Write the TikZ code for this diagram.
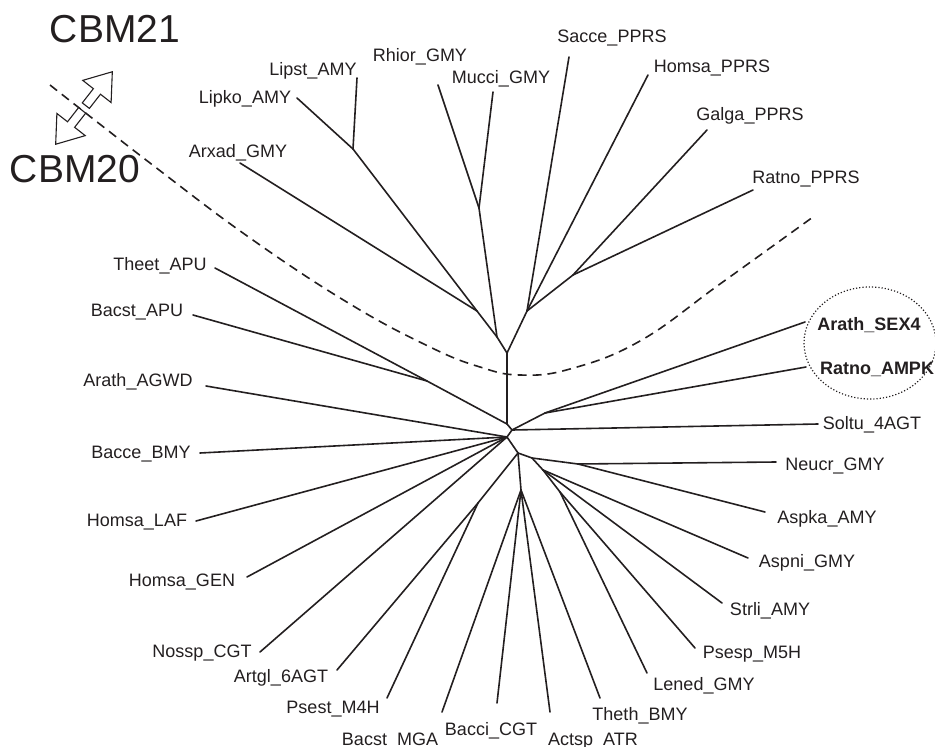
\documentclass[tikz,border=0pt]{standalone}
\usepackage{fontspec}
\setmainfont{Liberation Sans}
\usetikzlibrary{positioning}
\definecolor{ink}{HTML}{231F20}

\begin{document}
\begin{tikzpicture}[x=1pt, y=-1pt,
  branch/.style={draw=ink, line width=1.6pt, line cap=round, line join=round},
  leaf/.style={anchor=base, inner sep=0pt, text=ink, font=\fontsize{18}{21}\selectfont},
  leafb/.style={leaf, font=\fontsize{18}{21}\selectfont\bfseries},
  group/.style={anchor=base, inner sep=0pt, text=ink, font=\fontsize{39}{44}\selectfont},
  border/.style={draw=ink, line width=1.6pt, dash pattern=on 9pt off 6pt},
  flip/.style={draw=ink, fill=white, line width=1.1pt, line join=miter}
]
  \useasboundingbox (0,0) rectangle (935,747);

  % inner nodes
  \coordinate (c1) at (507,424);
  \coordinate (c2) at (512,430);
  \coordinate (c3) at (507,437);
  \coordinate (c4) at (518,453);
  \coordinate (tb) at (427,381);
  \coordinate (t1) at (507,353);
  \coordinate (t2) at (497,337);
  \coordinate (t3) at (477,311);
  \coordinate (tl) at (353,149);
  \coordinate (t4) at (479,208);
  \coordinate (t5) at (527,311);
  \coordinate (t6) at (573,275);
  \coordinate (sx) at (545,413);
  \coordinate (na) at (532,458);
  \coordinate (nb) at (578,464);
  \coordinate (nc) at (543,470);
  \coordinate (nd) at (560,492);
  \coordinate (ne) at (521,490);
  \coordinate (nf) at (478,503);

  % branch tips
  \coordinate (lipst) at (357,78);
  \coordinate (lipko) at (297,98);
  \coordinate (arxad) at (240,163);
  \coordinate (rhior) at (438,85);
  \coordinate (mucci) at (493,92);
  \coordinate (sacce) at (569,57);
  \coordinate (homsaP) at (648,75);
  \coordinate (galga) at (707,130);
  \coordinate (ratnoP) at (753,190);
  \coordinate (theet) at (215,268);
  \coordinate (bacstA) at (193,315);
  \coordinate (arathA) at (206,386);
  \coordinate (bacce) at (200,453);
  \coordinate (homsaL) at (196,521);
  \coordinate (homsaG) at (247,577);
  \coordinate (nossp) at (260,652);
  \coordinate (artgl) at (337,670);
  \coordinate (psest) at (387,698);
  \coordinate (bacstM) at (442,712);
  \coordinate (bacci) at (497,703);
  \coordinate (actsp) at (550,712);
  \coordinate (theth) at (600,698);
  \coordinate (lened) at (647,673);
  \coordinate (psesp) at (695,648);
  \coordinate (strli) at (722,603);
  \coordinate (aspni) at (748,558);
  \coordinate (aspka) at (765,512);
  \coordinate (neucr) at (776,462);
  \coordinate (soltu) at (818,424);
  \coordinate (sex4) at (805,322);
  \coordinate (ampk) at (806,367);

  % labels
  \node[leaf] (lipst-l) at (313,75) {Lipst\_AMY};
  \node[leaf] (lipko-l) at (245,103) {Lipko\_AMY};
  \node[leaf] (arxad-l) at (238,157) {Arxad\_GMY};
  \node[leaf] (rhior-l) at (420,61) {Rhior\_GMY};
  \node[leaf] (mucci-l) at (501,83) {Mucci\_GMY};
  \node[leaf] (sacce-l) at (612,42) {Sacce\_PPRS};
  \node[leaf] (homsaP-l) at (712,72) {Homsa\_PPRS};
  \node[leaf] (galga-l) at (750,120) {Galga\_PPRS};
  \node[leaf] (ratnoP-l) at (806,183) {Ratno\_PPRS};
  \node[leaf] (theet-l) at (160,270) {Theet\_APU};
  \node[leaf] (bacstA-l) at (137,316) {Bacst\_APU};
  \node[leaf] (arathA-l) at (138,386) {Arath\_AGWD};
  \node[leaf] (bacce-l) at (141,458) {Bacce\_BMY};
  \node[leaf] (homsaL-l) at (137,526) {Homsa\_LAF};
  \node[leaf] (homsaG-l) at (182,586) {Homsa\_GEN};
  \node[leaf] (nossp-l) at (202,657) {Nossp\_CGT};
  \node[leaf] (artgl-l) at (281,682) {Artgl\_6AGT};
  \node[leaf] (psest-l) at (333,713) {Psest\_M4H};
  \node[leaf] (bacstM-l) at (390,745) {Bacst\_MGA};
  \node[leaf] (bacci-l) at (491,735) {Bacci\_CGT};
  \node[leaf] (actsp-l) at (593,745) {Actsp\_ATR};
  \node[leaf] (theth-l) at (640,720) {Theth\_BMY};
  \node[leaf] (lened-l) at (704,690) {Lened\_GMY};
  \node[leaf] (psesp-l) at (752,658) {Psesp\_M5H};
  \node[leaf] (strli-l) at (770,615) {Strli\_AMY};
  \node[leaf] (aspni-l) at (807,567) {Aspni\_GMY};
  \node[leaf] (aspka-l) at (827,523) {Aspka\_AMY};
  \node[leaf] (neucr-l) at (835,470) {Neucr\_GMY};
  \node[leaf] (soltu-l) at (872,429) {Soltu\_4AGT};
  \node[leafb] (sex4-l) at (869,330) {Arath\_SEX4};
  \node[leafb] (ampk-l) at (877,374) {Ratno\_AMPK};
  \node[group] (cbm21) at (115,42) {CBM21};
  \node[group] (cbm20) at (75,182) {CBM20};

  % tree
  \draw[branch] (c1) -- (t1);
  \draw[branch] (c1) -- (tb);
  \draw[branch] (c1) -- (c2);
  \draw[branch] (c2) -- (c3);
  \draw[branch] (c3) -- (c4);
  \draw[branch] (tb) -- (theet);
  \draw[branch] (tb) -- (bacstA);
  \draw[branch] (t1) -- (t2);
  \draw[branch] (t1) -- (t5);
  \draw[branch] (t2) -- (t3);
  \draw[branch] (t2) -- (t4);
  \draw[branch] (t3) -- (arxad);
  \draw[branch] (t3) -- (tl);
  \draw[branch] (tl) -- (lipko);
  \draw[branch] (tl) -- (lipst);
  \draw[branch] (t4) -- (rhior);
  \draw[branch] (t4) -- (mucci);
  \draw[branch] (t5) -- (sacce);
  \draw[branch] (t5) -- (homsaP);
  \draw[branch] (t5) -- (t6);
  \draw[branch] (t6) -- (galga);
  \draw[branch] (t6) -- (ratnoP);
  \draw[branch] (c2) -- (sx);
  \draw[branch] (c2) -- (soltu);
  \draw[branch] (sx) -- (sex4);
  \draw[branch] (sx) -- (ampk);
  \draw[branch] (c3) -- (arathA);
  \draw[branch] (c3) -- (bacce);
  \draw[branch] (c3) -- (homsaL);
  \draw[branch] (c3) -- (homsaG);
  \draw[branch] (c3) -- (nossp);
  \draw[branch] (c4) -- (nf);
  \draw[branch] (nf) -- (artgl);
  \draw[branch] (nf) -- (psest);
  \draw[branch] (c4) -- (ne);
  \draw[branch] (ne) -- (bacstM);
  \draw[branch] (ne) -- (bacci);
  \draw[branch] (ne) -- (actsp);
  \draw[branch] (ne) -- (theth);
  \draw[branch] (c4) -- (na);
  \draw[branch] (na) -- (nb);
  \draw[branch] (nb) -- (neucr);
  \draw[branch] (nb) -- (aspka);
  \draw[branch] (na) -- (nc);
  \draw[branch] (nc) -- (aspni);
  \draw[branch] (nc) -- (strli);
  \draw[branch] (nc) -- (nd);
  \draw[branch] (nd) -- (psesp);
  \draw[branch] (nd) -- (lened);

  % CBM20 / CBM21 border
  \draw[border] plot[smooth, tension=0.7] coordinates {(50,85) (150,163) (250,238) (350,304) (430,347) (480,367) (520,375) (570,369) (640,341) (720,284) (813,217)};
  \draw[ink, line width=1.2pt, dotted] (870,343) ellipse [x radius=66pt, y radius=56pt];

  \begin{scope}[shift={(84,108)}, rotate=52]
    \draw[flip] (3,-4.5) -- (21,-4.5) -- (21,-18) -- (46,0) -- (21,18) -- (21,4.5) -- (3,4.5) -- cycle;
  \end{scope}
  \begin{scope}[shift={(84,108)}, rotate=232]
    \draw[flip] (3,-4.5) -- (21,-4.5) -- (21,-18) -- (46,0) -- (21,18) -- (21,4.5) -- (3,4.5) -- cycle;
  \end{scope}
\end{tikzpicture}
\end{document}
